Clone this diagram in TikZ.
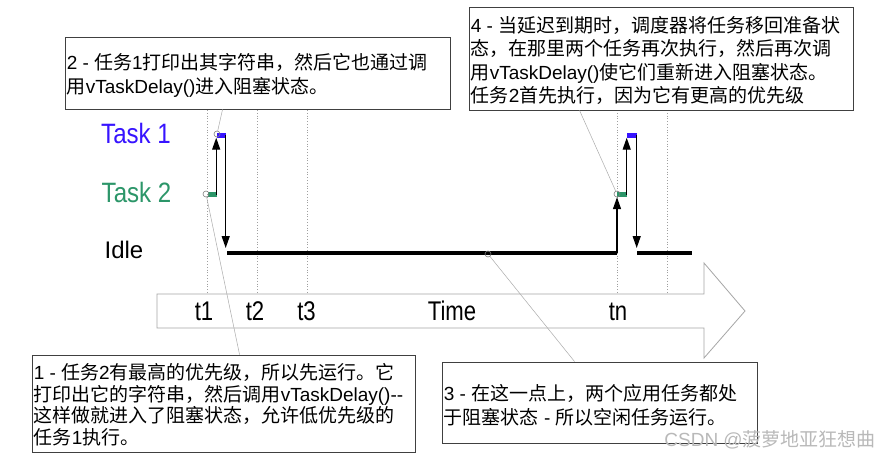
\documentclass[tikz,border=0pt]{standalone}
\usepackage{fontspec}
\setmainfont{Liberation Sans}
\newfontfamily\cjk{Noto Sans CJK SC}
\usetikzlibrary{arrows.meta,calc}
\definecolor{tblue}{RGB}{55,20,255}
\definecolor{tgreen}{RGB}{44,150,105}
\definecolor{framec}{RGB}{64,64,64}
\newcommand\C[1]{{\cjk #1}}
\begin{document}
\begin{tikzpicture}[x=1pt,y=-1pt,
  boxframe/.style={draw=framec, line width=0.9pt, inner sep=0pt, fill=white},
  boxtext/.style={anchor=west, align=left, inner sep=0pt},
  guide/.style={draw=gray!75, dotted, line width=0.8pt},
  callout/.style={draw=gray!65, line width=0.5pt},
  marker/.style={circle, draw=gray, line width=0.6pt, inner sep=0pt, minimum size=6pt},
  arr/.style={line width=1.4pt, -{Triangle[length=12pt,width=8pt]}},
  idleline/.style={line width=4.5pt},
  gbar/.style={fill=tgreen, inner sep=0pt, minimum height=5pt},
  bbar/.style={fill=tblue, inner sep=0pt, minimum height=5pt},
  tasklabel/.style={inner sep=0pt, font=\fontsize{28}{28}\selectfont},
  timelabel/.style={inner sep=0pt, anchor=base, font=\fontsize{27}{27}\selectfont},
  timearrow/.style={draw=gray!70, fill=white, line width=0.8pt}
]
\useasboundingbox (0,0) rectangle (891,460);
\fill[white] (0,0) rectangle (891,460);

% time arrow
\draw[timearrow] (157,294) -- (704,294) -- (704,263) -- (745,311) -- (704,358) -- (704,328) -- (157,328) -- cycle;

% dotted guides
\foreach \x in {207,257,307,617,667} \draw[guide] (\x,110) -- (\x,294);

% labels
\node[tasklabel, text=tblue] (lt1) at (136,133) {\scalebox{0.86}[1]{Task 1}};
\node[tasklabel, text=tgreen] (lt2) at (136.5,192) {\scalebox{0.86}[1]{Task 2}};
\node[inner sep=0pt, font=\fontsize{24}{24}\selectfont] (lidle) at (124,250) {Idle};

\node[timelabel] (t1) at (204,320) {\scalebox{0.82}[1]{t1}};
\node[timelabel] (t2) at (255,320) {\scalebox{0.82}[1]{t2}};
\node[timelabel] (t3) at (306.5,320) {\scalebox{0.82}[1]{t3}};
\node[timelabel] (tm) at (452,320) {\scalebox{0.82}[1]{Time}};
\node[timelabel] (tn) at (618,320) {\scalebox{0.82}[1]{tn}};

% idle line coordinates
\coordinate (i1) at (227,253);
\coordinate (i2) at (617,253);
\coordinate (i3) at (637,253);
\coordinate (i4) at (692,253);
\draw[idleline] (i1) -- (i2);
\draw[idleline] (i3) -- (i4);

% task bars
\node[gbar, minimum width=9pt] (g1) at (212,194.5) {};
\node[bbar, minimum width=9pt] (u1) at (221.5,135) {};
\node[gbar, minimum width=10pt] (g2) at (622,194.5) {};
\node[bbar, minimum width=10pt] (u2) at (632,135) {};

% arrows
\draw[arr] ([xshift=-0.5pt]g1.east) -- ([xshift=-0.5pt]g1.east |- u1.south);
\draw[arr] ([xshift=-0.5pt]u1.east) -- ([xshift=-0.5pt,yshift=5pt]u1.east |- i1);
\draw[arr] (i2) -- (i2 |- g2.south);
\draw[arr] ([xshift=-0.5pt]g2.east) -- ([xshift=-0.5pt]g2.east |- u2.south);
\draw[arr] ([xshift=-0.5pt]u2.east) -- ([xshift=-0.5pt,yshift=5pt]u2.east |- i3);

% markers
\node[marker] (m1) at (206,194) {};
\node[marker] (m2) at (217,134) {};
\node[marker] (m3) at (488,254) {};
\node[marker] (m4) at (617,194) {};

% boxes
\node[boxframe, minimum width=385pt, minimum height=72pt] (b2) at (257.5,73) {};
\node[boxtext, font=\fontsize{19}{24}\selectfont] (b2t) at ([xshift=2pt,yshift=-2pt]b2.west)
 {2 - \C{任务}1\C{打印出其字符串，然后它也通过调}\\
  \C{用}vTaskDelay()\C{进入阻塞状态。}};

\node[boxframe, minimum width=384pt, minimum height=103pt] (b4) at (661,58.5) {};
\node[boxtext, font=\fontsize{19}{23.3}\selectfont] (b4t) at ([xshift=2pt,yshift=-2pt]b4.west)
 {4 - \C{当延迟到期时，调度器将任务移回准备状}\\
  \C{态，在那里两个任务再次执行，然后再次调}\\
  \C{用}vTaskDelay()\C{使它们重新进入阻塞状态。}\\
  \C{任务}2\C{首先执行，因为它有更高的优先级}};

\node[boxframe, minimum width=383pt, minimum height=97pt] (b1) at (223.5,403.5) {};
\node[boxtext, font=\fontsize{19}{21.5}\selectfont] (b1t) at ([xshift=2pt,yshift=-1pt]b1.west)
 {1 - \C{任务}2\C{有最高的优先级，所以先运行。它}\\
  \C{打印出它的字符串，然后调用}vTaskDelay()-{}-\\
  \C{这样做就进入了阻塞状态，允许低优先级的}\\
  \C{任务}1\C{执行。}};

\node[boxframe, minimum width=315pt, minimum height=81pt] (b3) at (599.5,402.5) {};
\node[boxtext, font=\fontsize{19}{24}\selectfont] (b3t) at ([xshift=2pt,yshift=-2.5pt]b3.west)
 {3 - \C{在这一点上，两个应用任务都处}\\
  \C{于阻塞状态} - \C{所以空闲任务运行。}};

% callout lines
\draw[callout] ([xshift=208pt]b1.north west) -- (m1);
\draw[callout] ([xshift=158pt]b2.south west) -- (m2);
\draw[callout] ([xshift=133pt]b3.north west) -- (m3);
\draw[callout] ([xshift=111pt]b4.south west) -- (m4);

% watermark
\node[inner sep=0pt, anchor=east, text=gray!55, font=\fontsize{19}{19}\selectfont] (wm) at (876,440) {CSDN @\C{菠萝地亚狂想曲}};
\end{tikzpicture}
\end{document}
